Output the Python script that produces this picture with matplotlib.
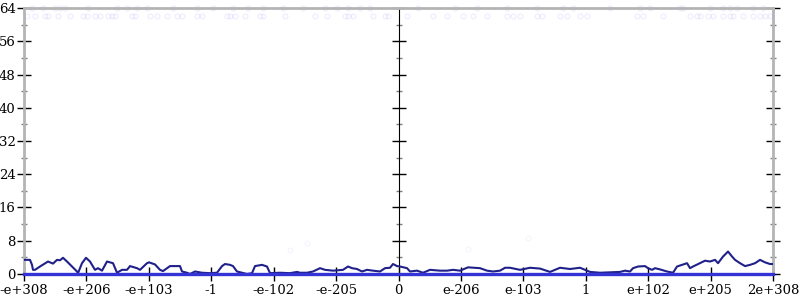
import matplotlib.pyplot as plt
import numpy as np

# x positions are bin indices along the ordered-float axis (0 .. 749)
tick_labels = ["-e+308", "-e+206", "-e+103", "-1", "-e-102", "-e-205", "0",
               "e-206", "e-103", "1", "e+102", "e+205", "2e+308"]

curve_x = [0, 3, 6, 8, 9, 11, 16, 24, 29, 33,
           36, 39, 43, 48, 53, 54, 58, 62, 66, 71,
           74, 78, 83, 89, 93, 98, 103, 106, 113, 116,
           123, 125, 131, 136, 139, 146, 156, 158, 163, 166,
           171, 178, 186, 193, 198, 201, 206, 209, 213, 218,
           223, 228, 231, 238, 243, 246, 256, 266, 273, 276,
           283, 289, 296, 301, 309, 319, 324, 328, 333, 338,
           343, 349, 356, 361, 366, 369, 373, 376, 383, 386,
           393, 399, 406, 416, 423, 429, 436, 444, 456, 463,
           469, 476, 481, 486, 496, 506, 516, 526, 536, 546,
           556, 566, 576, 586, 596, 601, 606, 609, 614, 621,
           624, 628, 631, 636, 643, 649, 653, 658, 663, 666,
           669, 676, 681, 686, 691, 694, 699, 704, 708, 711,
           716, 721, 726, 731, 736, 741, 746, 749]
curve_y = [3.4, 3.4, 3.4, 2.2, 1.0, 1.0, 1.8, 3.0, 2.5, 3.4,
           3.3, 3.9, 3.0, 1.8, 0.6, 0.2, 2.6, 3.9, 3.0, 1.0,
           1.4, 0.8, 3.0, 2.6, 0.3, 1.0, 1.0, 1.9, 1.4, 1.0,
           2.6, 2.8, 2.3, 1.0, 0.7, 1.9, 1.9, 0.6, 0.3, 0.0,
           0.6, 0.3, 0.2, 0.3, 1.9, 2.4, 2.2, 1.9, 0.6, 0.3,
           0.0, 0.2, 1.9, 2.2, 1.8, 0.2, 0.3, 0.2, 0.5, 0.3,
           0.3, 0.6, 1.4, 1.0, 0.8, 1.0, 1.8, 1.4, 1.2, 0.6,
           1.0, 0.8, 0.6, 1.4, 1.5, 2.4, 1.9, 1.8, 1.4, 0.6,
           0.8, 0.3, 1.0, 0.8, 0.8, 1.0, 0.8, 1.6, 1.4, 0.8,
           0.6, 0.8, 1.5, 1.5, 1.0, 1.5, 1.3, 0.5, 1.5, 1.2,
           1.5, 0.5, 0.3, 0.4, 0.5, 0.8, 0.6, 1.4, 1.8, 1.9,
           1.4, 1.0, 1.4, 1.1, 0.6, 0.3, 1.8, 2.2, 2.6, 1.4,
           1.8, 2.6, 3.2, 3.0, 3.4, 2.6, 4.2, 5.4, 4.2, 3.4,
           2.6, 1.9, 2.2, 2.6, 3.4, 2.8, 2.4, 2.4]

dots64_x = [8, 19, 31, 36, 41, 64, 93, 103, 113, 123, 149, 173, 189, 209, 224,
            239, 259, 279, 301, 313, 324, 336, 346, 394, 431, 453, 483, 513, 539,
            549, 586, 616, 626, 656, 659, 686, 699, 706, 713, 729, 739]
dots62_x = [3, 11, 21, 24, 34, 46, 59, 63, 71, 76, 84, 88, 91, 108, 111, 126, 133,
            143, 153, 158, 173, 178, 203, 206, 211, 221, 236, 239, 261, 291, 303,
            321, 324, 329, 349, 361, 364, 383, 409, 423, 439, 449, 463, 483, 489,
            496, 513, 518, 536, 543, 556, 563, 613, 619, 639, 666, 673, 676, 684,
            689, 699, 706, 709, 719, 729, 736, 741, 746]
stray_x = [266, 504, 444, 283]
stray_y = [5.8, 8.7, 6.0, 7.5]

plt.rcParams['font.family'] = 'DejaVu Serif'

fig = plt.figure(figsize=(8, 3), dpi=100)
ax = fig.add_axes([0.03, 0.0867, 0.9363, 0.8866])

dot_style = dict(ls='none', marker='o', ms=3.5, mfc='none', mec='#4040f0', mew=0.9)
ax.plot(dots64_x, [64] * len(dots64_x), alpha=0.09, clip_on=False, **dot_style)
ax.plot(dots62_x, [62] * len(dots62_x), alpha=0.09, clip_on=False, **dot_style)
ax.plot(stray_x, stray_y, alpha=0.05, **dot_style)

ax.plot(curve_x, curve_y, color='#20208a', lw=1.5, zorder=3)
ax.axhline(0, color='#3434d6', lw=2.4, clip_on=False, zorder=4)

ax.set_xlim(0, 749)
ax.set_ylim(0, 64)

ax.set_xticks(np.linspace(0, 749, len(tick_labels)))
ax.set_xticklabels(tick_labels)
ax.set_yticks(np.arange(0, 65, 8))
ax.set_yticks(np.arange(4, 64, 8), minor=True)

for s in ['left', 'right', 'top']:
    ax.spines[s].set_color('#b4b4b4')
    ax.spines[s].set_linewidth(2)
ax.spines['bottom'].set_visible(False)

ax.tick_params(axis='both', which='major', direction='inout', length=10,
               width=1, color='black', labelsize=9.5, pad=2)
ax.tick_params(axis='y', which='major', right=True, pad=1)
ax.tick_params(axis='y', which='minor', left=True, right=True, direction='inout',
               length=5, width=1, color='#808080')

mid = ax.secondary_yaxis(0.5)
mid.set_yticks(np.arange(0, 65, 8))
mid.set_yticks(np.arange(4, 64, 8), minor=True)
mid.yaxis.set_ticklabels([])
mid.spines['left'].set_color('#b4b4b4')
mid.spines['left'].set_linewidth(2)
mid.tick_params(which='major', direction='inout', length=10, width=1,
                color='black')
mid.tick_params(which='minor', direction='inout', length=5, width=1,
                color='#808080')

fig.savefig('out.png', dpi=100)
